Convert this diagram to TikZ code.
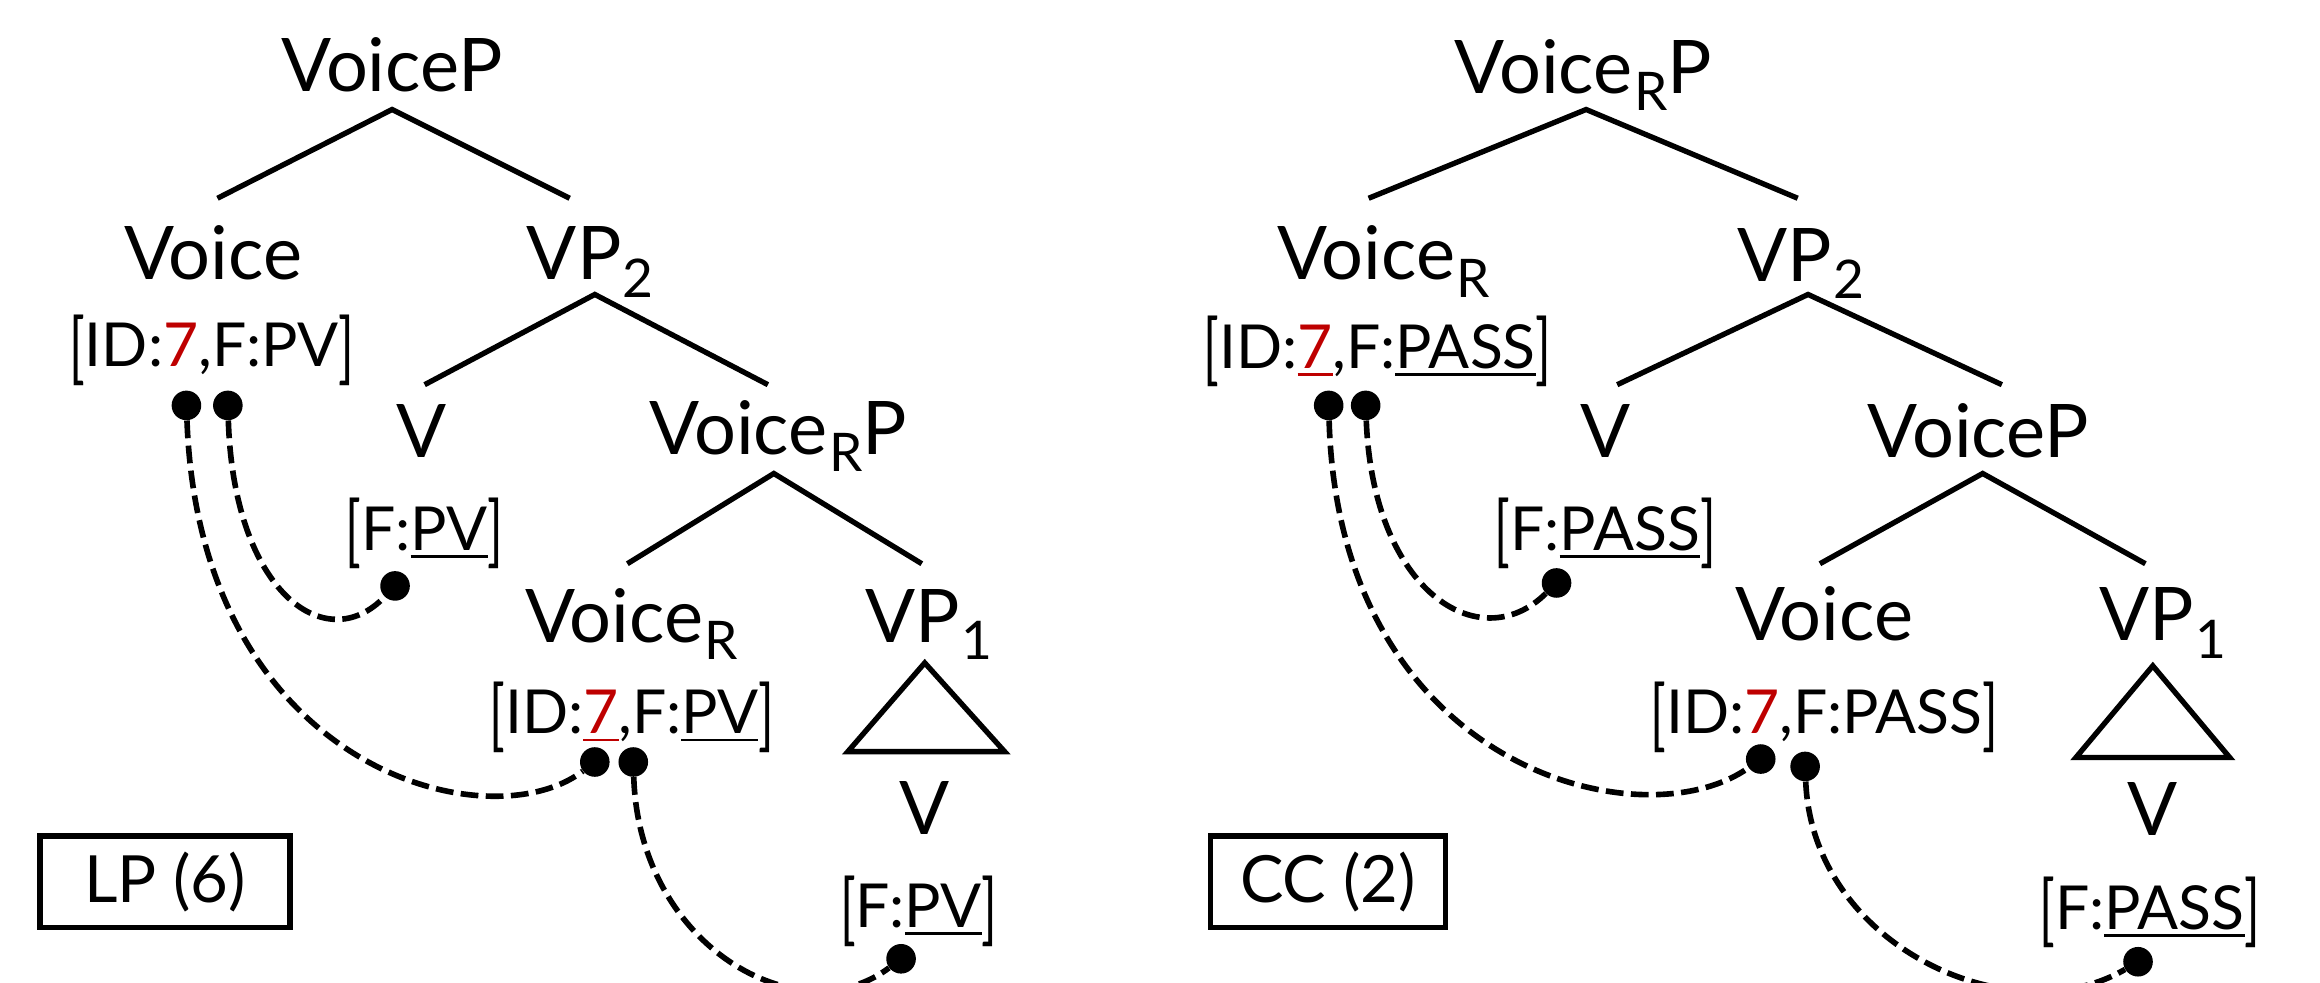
\documentclass[tikz,border=0pt]{standalone}
\usepackage{fontspec}
\usepackage{graphicx}
\setmainfont{Lato}
\definecolor{red7}{RGB}{190,0,0}
\newcommand{\sbx}[1]{\kern1pt\raisebox{-12pt}{\fontsize{36}{36}\selectfont #1}}
\newcommand{\ulx}[1]{\setbox0\hbox{#1}\rlap{\rule[-5pt]{\wd0}{1.8pt}}\box0}
\newcommand{\lbk}{\raisebox{-5pt}{\scalebox{0.85}[1.28]{[}}}
\newcommand{\rbk}{\raisebox{-5pt}{\scalebox{0.85}[1.28]{]}}}
\begin{document}
\begin{tikzpicture}[x=1pt,y=-1pt,
  lbl/.style={font=\fontsize{50}{60}\selectfont, inner sep=0pt, anchor=base},
  feat/.style={font=\fontsize{41}{48}\selectfont, inner sep=0pt, anchor=base},
  br/.style={line width=3.6pt},
  dotn/.style={circle, fill=black, inner sep=0pt, minimum size=20pt},
  link/.style={line width=3.8pt, dash pattern=on 12pt off 5pt},
  boxn/.style={draw, line width=3.6pt, inner sep=0pt, minimum height=62pt, font=\fontsize{44}{50}\selectfont}]
\useasboundingbox (0,0) rectangle (1568,664);
% ---------- left tree ----------
\node[lbl] (lvp) at (265,62) {VoiceP};
\node[lbl] (lvoice) at (144,189) {Voice};
\node[lbl] (lvp2) at (399,189) {VP\sbx{2}};
\node[feat] (lf1) at (143,248) {\lbk ID:\textcolor{red7}{7},F:PV\rbk};
\node[lbl] (lv) at (285,309) {V};
\node[lbl] (lvrp) at (526,307) {Voice\sbx{R}P};
\node[feat] (lf2) at (287,372) {\lbk F:\ulx{PV}\rbk};
\node[lbl] (lvr) at (427,434) {Voice\sbx{R}};
\node[lbl] (lvp1) at (628,434) {VP\sbx{1}};
\node[feat] (lf3) at (427,496) {\lbk ID:\textcolor{red7}{\ulx{7}},F:\ulx{PV}\rbk};
\node[lbl] (lvv) at (625,564) {V};
\node[feat] (lf4) at (621,627) {\lbk F:\ulx{PV}\rbk};
\node[boxn, minimum width=169pt] (lbox) at (111.5,596) {LP (6)};
% branches
\coordinate (la1) at (265,74); \coordinate (la1l) at (147,134); \coordinate (la1r) at (385,134);
\coordinate (la2) at (402,199); \coordinate (la2l) at (287,260); \coordinate (la2r) at (519,260);
\coordinate (la3) at (523,320); \coordinate (la3l) at (424,381); \coordinate (la3r) at (623,381);
\draw[br] (la1l) -- (la1) -- (la1r);
\draw[br] (la2l) -- (la2) -- (la2r);
\draw[br] (la3l) -- (la3) -- (la3r);
\coordinate (lt1) at (625,448); \coordinate (lt2) at (573,508); \coordinate (lt3) at (679,508);
\draw[br, line join=miter] (lt1) -- (lt2) -- (lt3) -- cycle;
% dots
\node[dotn] (ld1) at (126,274) {};
\node[dotn] (ld2) at (154,274) {};
\node[dotn] (ld3) at (267,396) {};
\node[dotn] (ld4) at (402,515) {};
\node[dotn] (ld5) at (428,515) {};
\node[dotn] (ld6) at (609,648) {};
\draw[link] (ld1) .. controls (135,520) and (330,570) .. (ld4);
\draw[link] (ld2) .. controls (158,400) and (220,445) .. (ld3);
\draw[link] (ld5) .. controls (432,640) and (540,700) .. (ld6);
% ---------- right tree ----------
\node[lbl] (rvrp) at (1070,63) {Voice\sbx{R}P};
\node[lbl] (rvr) at (935,189) {Voice\sbx{R}};
\node[lbl] (rvp2) at (1217,190) {VP\sbx{2}};
\node[feat] (rf1) at (931,249) {\lbk ID:\textcolor{red7}{\ulx{7}},F:\ulx{PASS}\rbk};
\node[lbl] (rv) at (1085,309) {V};
\node[lbl] (rvp) at (1337,309) {VoiceP};
\node[feat] (rf2) at (1085,372) {\lbk F:\ulx{PASS}\rbk};
\node[lbl] (rvoice) at (1233,433) {Voice};
\node[lbl] (rvp1) at (1462,433) {VP\sbx{1}};
\node[feat] (rf3) at (1233,496) {\lbk ID:\textcolor{red7}{7},F:PASS\rbk};
\node[lbl] (rvv) at (1455,565) {V};
\node[feat] (rf4) at (1453,628) {\lbk F:\ulx{PASS}\rbk};
\node[boxn, minimum width=159pt] (rbox) at (897.5,596) {CC (2)};
\coordinate (ra1) at (1072,74); \coordinate (ra1l) at (925,134); \coordinate (ra1r) at (1215,134);
\coordinate (ra2) at (1222,199); \coordinate (ra2l) at (1093,260); \coordinate (ra2r) at (1353,260);
\coordinate (ra3) at (1340,320); \coordinate (ra3l) at (1230,381); \coordinate (ra3r) at (1450,381);
\draw[br] (ra1l) -- (ra1) -- (ra1r);
\draw[br] (ra2l) -- (ra2) -- (ra2r);
\draw[br] (ra3l) -- (ra3) -- (ra3r);
\coordinate (rt1) at (1455,450); \coordinate (rt2) at (1403,512); \coordinate (rt3) at (1507,512);
\draw[br, line join=miter] (rt1) -- (rt2) -- (rt3) -- cycle;
\node[dotn] (rd1) at (898,274) {};
\node[dotn] (rd2) at (923,274) {};
\node[dotn] (rd3) at (1052,394) {};
\node[dotn] (rd4) at (1190,513) {};
\node[dotn] (rd5) at (1220,518) {};
\node[dotn] (rd6) at (1445,650) {};
\draw[link] (rd1) .. controls (905,520) and (1110,570) .. (rd4);
\draw[link] (rd2) .. controls (928,400) and (1000,445) .. (rd3);
\draw[link] (rd5) .. controls (1225,640) and (1360,700) .. (rd6);
\end{tikzpicture}
\end{document}
